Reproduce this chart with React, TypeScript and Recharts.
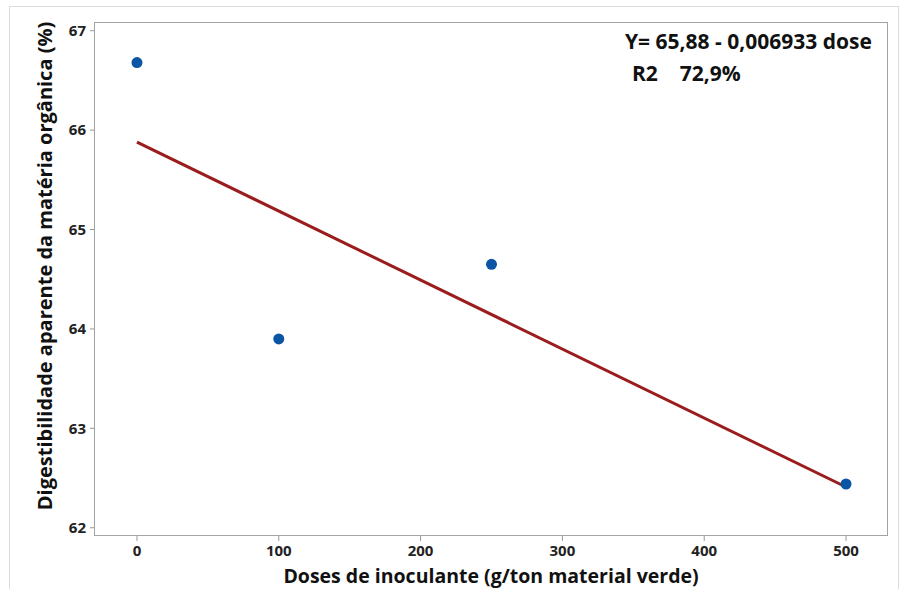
import React from 'react';
import { ScatterChart, Scatter, XAxis, YAxis, Label } from 'recharts';

// observed means per dose
const doses = [0, 100, 250, 500];
const digestibility = [66.68, 63.9, 64.65, 62.44];

// fitted regression line
const fitDoses = [0, 500];
const fitValues = [65.88, 62.41];

const xTicks = [0, 100, 200, 300, 400, 500];
const yTicks = [62, 63, 64, 65, 66, 67];

const points = doses.map((d, i) => ({ dose: d, value: digestibility[i] }));
const fit = fitDoses.map((d, i) => ({ dose: d, value: fitValues[i] }));

const font = '"Open Sans", "Noto Sans", sans-serif';
const tickStyle = { fill: '#222', fontSize: 15, fontWeight: 700, fontFamily: font };

const Dot = (props: any) => <circle cx={props.cx} cy={props.cy} r={5.5} fill="#0a55a4" />;

export default function App() {
  return (
    <div style={{ position: 'fixed', left: 0, top: 0, width: 899, height: 589, overflow: 'hidden', background: '#fff' }}>
      {/* outer frame */}
      <div style={{ position: 'absolute', left: 9, top: 6, width: 888, height: 590, border: '1px solid #dcdcdc' }} />
      <ScatterChart
        width={899}
        height={600}
        margin={{ top: 22, right: 11, bottom: 0, left: 0 }}
        style={{ position: 'absolute', left: 0, top: 0 }}
      >
        <XAxis
          type="number"
          dataKey="dose"
          domain={[-30.3, 529.6]}
          ticks={xTicks}
          height={64}
          axisLine={false}
          tickSize={5}
          tickMargin={4}
          tickLine={{ stroke: '#999' }}
          tick={tickStyle}
          allowDataOverflow
        >
          <Label
            value="Doses de inoculante (g/ton material verde)"
            position="center"
            dy={8}
            style={{ fill: '#111', fontSize: 19.5, fontWeight: 700, fontFamily: font }}
          />
        </XAxis>
        <YAxis
          type="number"
          dataKey="value"
          domain={[61.917, 67.088]}
          ticks={yTicks}
          width={94}
          axisLine={false}
          tickSize={4}
          tickMargin={4}
          tickLine={{ stroke: '#999' }}
          tick={tickStyle}
          allowDataOverflow
        >
          <Label
            value="Digestibilidade aparente da matéria orgânica (%)"
            angle={-90}
            position="center"
            dx={-2}
            dy={-13}
            style={{ fill: '#111', fontSize: 20, fontWeight: 700, fontFamily: font, textAnchor: 'middle' }}
          />
        </YAxis>
        <Scatter
          data={fit}
          line={{ stroke: '#9b1c1c', strokeWidth: 3 }}
          shape={() => null}
          isAnimationActive={false}
        />
        <Scatter data={points} fill="#0a55a4" shape={Dot} isAnimationActive={false} />
      </ScatterChart>
      {/* plot frame */}
      <div style={{ position: 'absolute', left: 94, top: 22, width: 794, height: 514, border: '1.5px solid #a3a3a3', boxSizing: 'border-box', pointerEvents: 'none' }} />
      <div style={{ position: 'absolute', left: 625, top: 27, fontFamily: font, fontWeight: 700, fontSize: 21, color: '#111', whiteSpace: 'pre', lineHeight: '28px' }}>
        Y= 65,88 - 0,006933 dose
      </div>
      <div style={{ position: 'absolute', left: 632, top: 59, fontFamily: font, fontWeight: 700, fontSize: 21, color: '#111', whiteSpace: 'pre', lineHeight: '28px' }}>
        {'R2    72,9%'}
      </div>
    </div>
  );
}
